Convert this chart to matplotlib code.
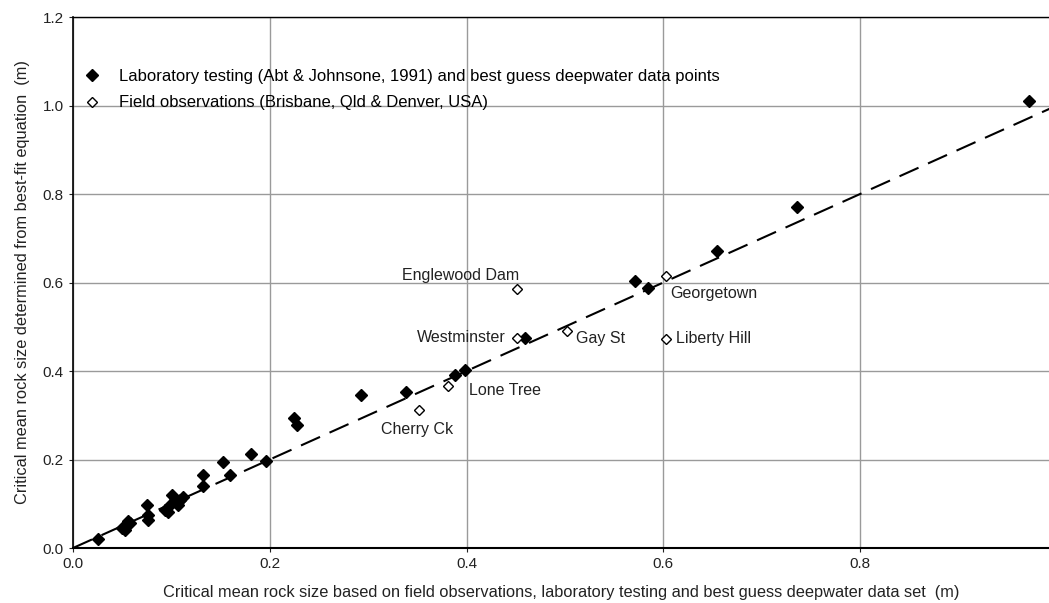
import numpy as np
import matplotlib.pyplot as plt

plt.rcParams['font.family'] = ['Liberation Sans', 'DejaVu Sans']

# Laboratory testing + best guess deepwater points (filled diamonds)
lab_x = [0.025, 0.050, 0.053, 0.055, 0.058, 0.056, 0.075, 0.076, 0.076,
         0.094, 0.097, 0.099, 0.101, 0.104, 0.107, 0.109, 0.112,
         0.132, 0.132, 0.152, 0.160, 0.181, 0.196, 0.225, 0.228,
         0.293, 0.338, 0.388, 0.398, 0.459, 0.571, 0.584, 0.655, 0.736, 0.972]
lab_y = [0.020, 0.045, 0.040, 0.052, 0.056, 0.062, 0.097, 0.075, 0.063,
         0.086, 0.081, 0.097, 0.120, 0.108, 0.097, 0.108, 0.115,
         0.165, 0.140, 0.195, 0.165, 0.212, 0.197, 0.294, 0.278,
         0.346, 0.353, 0.391, 0.402, 0.474, 0.603, 0.588, 0.671, 0.771, 1.010]

# Field observations (open diamonds)
field_names = ['Cherry Ck', 'Lone Tree', 'Westminster', 'Englewood Dam',
               'Gay St', 'Georgetown', 'Liberty Hill']
field_x = [0.352, 0.381, 0.451, 0.451, 0.502, 0.603, 0.603]
field_y = [0.312, 0.366, 0.475, 0.585, 0.490, 0.615, 0.472]

# label anchor points and alignment for each field site
label_x = [0.386, 0.402, 0.440, 0.453, 0.511, 0.607, 0.613]
label_y = [0.267, 0.355, 0.476, 0.615, 0.474, 0.575, 0.474]
label_ha = ['right', 'left', 'right', 'right', 'left', 'left', 'left']

fig = plt.figure(figsize=(10.49, 6.03), dpi=100)
ax = fig.add_axes([0.0696, 0.0912, 0.9304, 0.8806])

ax.grid(True, color='#9a9a9a', linewidth=1.0)
ax.set_axisbelow(True)

ax.plot([0, 1.0], [0, 1.0], color='black', linestyle=(0, (10, 5)), linewidth=1.5)

ax.plot(lab_x, lab_y, 'D', color='black', markersize=6.5, linestyle='none',
        label='Laboratory testing (Abt & Johnsone, 1991) and best guess deepwater data points')
ax.plot(field_x, field_y, 'D', markerfacecolor='white', markeredgecolor='black',
        markersize=5, markeredgewidth=1.0, linestyle='none',
        label='Field observations (Brisbane, Qld & Denver, USA)')

for name, lx, ly, ha in zip(field_names, label_x, label_y, label_ha):
    ax.text(lx, ly, name, ha=ha, va='center', fontsize=11.5, color='#222222')

ax.set_xlim(0, 0.992)
ax.set_ylim(0, 1.2)
ax.set_xticks([0.0, 0.2, 0.4, 0.6, 0.8])
ax.set_yticks([0.0, 0.2, 0.4, 0.6, 0.8, 1.0, 1.2])
ax.xaxis.set_major_formatter(plt.FormatStrFormatter('%.1f'))
ax.yaxis.set_major_formatter(plt.FormatStrFormatter('%.1f'))
ax.tick_params(labelsize=11, length=3, colors='#222222')

ax.spines['right'].set_visible(False)
ax.spines['bottom'].set_linewidth(1.5)
ax.spines['left'].set_linewidth(1.2)
ax.spines['top'].set_linewidth(1.0)

ax.set_xlabel('Critical mean rock size based on field observations, laboratory testing and best guess deepwater data set  (m)',
              fontsize=11.8, labelpad=10, color='#222222')
ax.set_ylabel('Critical mean rock size determined from best-fit equation  (m)',
              fontsize=11.8, labelpad=9, color='#222222')

ax.legend(loc='upper left', frameon=False, fontsize=12, handletextpad=1.1,
          borderaxespad=0.0, labelspacing=0.7, handlelength=1.0,
          bbox_to_anchor=(0.004, 0.915))

fig.savefig('out.png', dpi=100)
